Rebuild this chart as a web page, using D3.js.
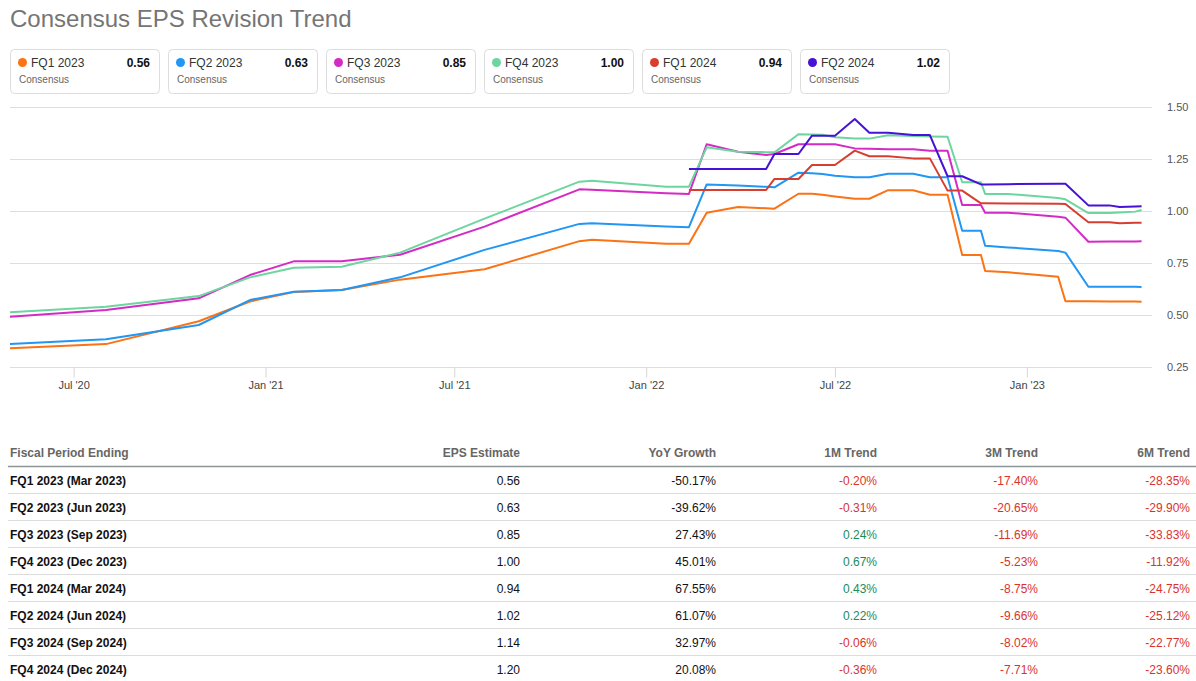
<!DOCTYPE html>
<html>
<head>
<meta charset="utf-8">
<script src="https://cdn.jsdelivr.net/npm/d3@7"></script>
<style>
  html, body { margin: 0; padding: 0; background: #fff; }
  svg { display: block; font-family: "Liberation Sans", Arial, sans-serif; }
</style>
</head>
<body>
<svg id="chart" width="1196" height="681"></svg>
<script>
// ---------- DATA ----------
const dates = [
  "2020-05-01","2020-08-01","2020-10-29","2020-12-17","2021-01-28","2021-03-15","2021-05-10",
  "2021-07-30","2021-10-29","2021-11-10","2022-01-20","2022-02-11","2022-02-28","2022-03-30",
  "2022-04-26","2022-05-04","2022-05-27","2022-06-09","2022-06-19","2022-07-01","2022-07-20",
  "2022-08-03","2022-08-21","2022-09-14","2022-09-30","2022-10-17","2022-10-31","2022-11-18",
  "2022-11-22","2022-12-14","2023-01-31","2023-02-07","2023-03-01","2023-03-21","2023-03-31",
  "2023-04-15","2023-04-21"
];
const seriesNames = ["FQ1 2023","FQ2 2023","FQ3 2023","FQ4 2023","FQ1 2024","FQ2 2024"];
const seriesColors = ["#fa7315","#2196f3","#d42bc4","#6dd5a0","#d63f30","#4512d6"];
const latestValues = ["0.56","0.63","0.85","1.00","0.94","1.02"];

const fq1_2023 = [0.340,0.360,0.470,0.565,0.610,0.620,0.670,0.720,0.855,0.862,0.842,0.842,0.992,1.019,
  1.013,1.011,1.083,1.083,1.078,1.070,1.059,1.059,1.100,1.100,1.078,1.078,0.788,0.788,0.712,0.705,
  0.684,0.566,0.566,0.565,0.565,0.565,0.564];
const fq2_2023 = [0.361,0.383,0.452,0.572,0.612,0.620,0.681,0.813,0.938,0.941,0.925,0.922,1.128,1.122,
  1.116,1.114,1.184,1.181,1.178,1.170,1.162,1.162,1.179,1.179,1.162,1.162,0.905,0.905,0.833,0.825,
  0.808,0.800,0.636,0.636,0.636,0.636,0.635];
const fq3_2023 = [0.492,0.524,0.580,0.692,0.758,0.758,0.790,0.925,1.104,1.102,1.085,1.082,1.321,1.285,
  1.269,1.274,1.321,1.321,1.321,1.321,1.301,1.299,1.297,1.297,1.290,1.290,1.029,1.029,0.992,0.992,
  0.972,0.968,0.852,0.853,0.853,0.853,0.854];
const fq4_2023 = [0.513,0.540,0.591,0.681,0.727,0.732,0.800,0.963,1.141,1.146,1.117,1.117,1.306,1.285,
  1.283,1.282,1.369,1.368,1.367,1.355,1.348,1.348,1.364,1.360,1.358,1.357,1.138,1.138,1.082,1.082,
  1.062,1.056,0.990,0.990,0.993,0.997,1.005];
const fq1_2024 = [null,null,null,null,null,null,null,null,null,null,null,1.101,1.101,1.101,
  1.101,1.154,1.154,1.221,1.221,1.221,1.290,1.263,1.263,1.253,1.253,1.098,1.098,1.037,1.037,1.036,
  1.035,1.034,0.946,0.946,0.941,0.943,0.944];
const fq2_2024 = [null,null,null,null,null,null,null,null,null,null,null,1.202,1.202,1.202,
  1.202,1.274,1.274,1.362,1.362,1.362,1.442,1.376,1.376,1.365,1.365,1.167,1.167,1.128,1.128,1.129,
  1.131,1.131,1.027,1.027,1.019,1.022,1.023];
const seriesValues = [fq1_2023, fq2_2023, fq3_2023, fq4_2023, fq1_2024, fq2_2024];

const yTicks = [0.25, 0.50, 0.75, 1.00, 1.25, 1.50];
const xTickDates = ["2020-07-01","2021-01-01","2021-07-01","2022-01-01","2022-07-01","2023-01-01"];
const xTickLabels = ["Jul '20","Jan '21","Jul '21","Jan '22","Jul '22","Jan '23"];

// Table
const tableHeaders = ["Fiscal Period Ending","EPS Estimate","YoY Growth","1M Trend","3M Trend","6M Trend"];
const periods = ["FQ1 2023 (Mar 2023)","FQ2 2023 (Jun 2023)","FQ3 2023 (Sep 2023)","FQ4 2023 (Dec 2023)",
  "FQ1 2024 (Mar 2024)","FQ2 2024 (Jun 2024)","FQ3 2024 (Sep 2024)","FQ4 2024 (Dec 2024)"];
const epsEstimates = ["0.56","0.63","0.85","1.00","0.94","1.02","1.14","1.20"];
const yoyGrowth = ["-50.17%","-39.62%","27.43%","45.01%","67.55%","61.07%","32.97%","20.08%"];
const trend1M = ["-0.20%","-0.31%","0.24%","0.67%","0.43%","0.22%","-0.06%","-0.36%"];
const trend3M = ["-17.40%","-20.65%","-11.69%","-5.23%","-8.75%","-9.66%","-8.02%","-7.71%"];
const trend6M = ["-28.35%","-29.90%","-33.83%","-11.92%","-24.75%","-25.12%","-22.77%","-23.60%"];

// ---------- DRAW ----------
const svg = d3.select("#chart");
const parse = d3.timeParse("%Y-%m-%d");

// Title
svg.append("text").attr("x", 10).attr("y", 27)
  .attr("font-size", 24).attr("fill", "#757575").text("Consensus EPS Revision Trend");

// Legend boxes
const legend = svg.append("g");
seriesNames.forEach((name, i) => {
  const g = legend.append("g").attr("transform", `translate(${10 + i * 158},49)`);
  g.append("rect").attr("x", 0.5).attr("y", 0.5).attr("width", 149).attr("height", 44)
    .attr("rx", 4).attr("fill", "#fff").attr("stroke", "#dcdcdc");
  g.append("circle").attr("cx", 12.5).attr("cy", 13.5).attr("r", 4.5).attr("fill", seriesColors[i]);
  g.append("text").attr("x", 21).attr("y", 18).attr("font-size", 12).attr("fill", "#333").text(name);
  g.append("text").attr("x", 140).attr("y", 18).attr("font-size", 12).attr("font-weight", "bold")
    .attr("text-anchor", "end").attr("fill", "#111").text(latestValues[i]);
  g.append("text").attr("x", 9).attr("y", 34).attr("font-size", 10).attr("fill", "#666").text("Consensus");
});

// Scales
const x = d3.scaleTime()
  .domain([parse("2020-05-01"), parse("2023-05-01")])
  .range([10, 1152]);
const y = d3.scaleLinear().domain([0.25, 1.5]).range([367, 107]);

// Grid
const grid = svg.append("g");
grid.selectAll("line").data(yTicks).join("line")
  .attr("x1", 10).attr("x2", 1152)
  .attr("y1", d => Math.round(y(d)) + 0.5).attr("y2", d => Math.round(y(d)) + 0.5)
  .attr("stroke", "#dedede").attr("stroke-width", 1);

// Y axis labels (right)
const yAxis = d3.axisRight(y).tickValues(yTicks).tickFormat(d3.format(".2f")).tickSize(0).tickPadding(0);
const yg = svg.append("g").attr("transform", "translate(1167,0)").call(yAxis);
yg.select(".domain").remove();
yg.selectAll("text").attr("font-size", 11).attr("fill", "#555").attr("font-family", "Liberation Sans, Arial, sans-serif");

// X axis
const xAxis = d3.axisBottom(x).tickValues(xTickDates.map(parse))
  .tickFormat((d, i) => xTickLabels[i]).tickSize(10).tickPadding(4);
const xg = svg.append("g").attr("transform", "translate(0,367.5)").call(xAxis);
xg.select(".domain").remove();
xg.selectAll(".tick line").attr("stroke", "#d6d6d6");
xg.selectAll("text").attr("font-size", 11).attr("fill", "#444").attr("font-family", "Liberation Sans, Arial, sans-serif");

// Lines
const line = d3.line()
  .defined(d => d.v != null)
  .x(d => x(d.date)).y(d => y(d.v));
const drawOrder = [0, 1, 2, 3, 4, 5];
drawOrder.forEach(i => {
  const pts = dates.map((ds, j) => ({ date: parse(ds), v: seriesValues[i][j] }));
  svg.append("path").datum(pts)
    .attr("d", line)
    .attr("fill", "none").attr("stroke", seriesColors[i])
    .attr("stroke-width", 2).attr("stroke-linejoin", "round");
});

// Table
const colRight = [null, 520, 716, 877, 1038, 1190];
const table = svg.append("g");
tableHeaders.forEach((h, c) => {
  table.append("text")
    .attr("x", c === 0 ? 10 : colRight[c]).attr("y", 457)
    .attr("text-anchor", c === 0 ? "start" : "end")
    .attr("font-size", 12).attr("font-weight", "bold").attr("fill", "#666").text(h);
});
table.append("line").attr("x1", 8).attr("x2", 1196).attr("y1", 466.5).attr("y2", 466.5)
  .attr("stroke", "#8c9696").attr("stroke-width", 1.5);

const redC = "#d8342c", greenC = "#1b8a5a";
const trendColor = s => s.trim().startsWith("-") ? redC : greenC;
periods.forEach((p, r) => {
  const ty = 484.5 + r * 27;
  table.append("text").attr("x", 10).attr("y", ty).attr("font-size", 12)
    .attr("font-weight", "bold").attr("fill", "#111").text(p);
  const vals = [epsEstimates[r], yoyGrowth[r], trend1M[r], trend3M[r], trend6M[r]];
  vals.forEach((v, k) => {
    table.append("text").attr("x", colRight[k + 1]).attr("y", ty)
      .attr("text-anchor", "end").attr("font-size", 12)
      .attr("fill", k < 2 ? "#111" : trendColor(v)).text(v);
  });
  if (r < periods.length - 1) {
    table.append("line").attr("x1", 8).attr("x2", 1196)
      .attr("y1", 493.5 + r * 27).attr("y2", 493.5 + r * 27)
      .attr("stroke", "#dcdcdc").attr("stroke-width", 1);
  }
});
</script>
</body>
</html>
